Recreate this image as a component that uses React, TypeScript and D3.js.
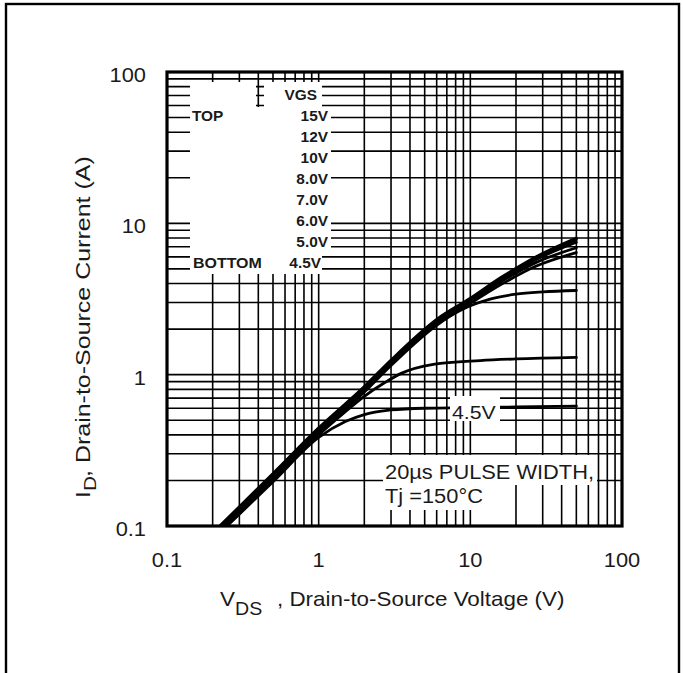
import React from 'react';
import * as d3 from 'd3';

const WIDTH = 683;
const HEIGHT = 673;
const PLOT = { left: 167, right: 622, top: 72, bottom: 526 };
const FONT = "'Liberation Sans', Arial, Helvetica, sans-serif";
const INK = '#1a1a1a';
const STRETCH = 1.12;

// Axis decades and their labels
const xTickValues = [0.1, 1, 10, 100];
const xTickLabels = ['0.1', '1', '10', '100'];
const yTickValues = [0.1, 1, 10, 100];
const yTickLabels = ['0.1', '1', '10', '100'];

// Legend block
const legendHeader = 'VGS';
const legendTopWord = 'TOP';
const legendBottomWord = 'BOTTOM';
const gateLabels = ['15V', '12V', '10V', '8.0V', '7.0V', '6.0V', '5.0V', '4.5V'];

// Output characteristics, [VDS (V), ID (A)] per gate voltage
const curve15V = [[0.2, 0.09], [0.5, 0.222], [1, 0.445], [2, 0.835], [3, 1.25], [6, 2.32], [10, 3.2], [16, 4.4], [27, 6.0], [50, 8.0]];
const curve12V = [[0.2, 0.089], [0.5, 0.219], [1, 0.438], [2, 0.822], [3, 1.23], [6, 2.28], [10, 3.15], [16, 4.33], [27, 5.9], [50, 7.8]];
const curve10V = [[0.2, 0.0875], [0.5, 0.215], [1, 0.43], [2, 0.808], [3, 1.21], [6, 2.24], [10, 3.09], [16, 4.25], [27, 5.75], [50, 7.5]];
const curve8V = [[0.2, 0.086], [0.5, 0.212], [1, 0.423], [2, 0.795], [3, 1.19], [6, 2.2], [10, 3.03], [16, 4.12], [27, 5.5], [50, 6.9]];
const curve7V = [[0.2, 0.0848], [0.5, 0.208], [1, 0.416], [2, 0.78], [3, 1.17], [6, 2.16], [10, 2.96], [16, 3.95], [27, 5.2], [50, 6.4]];
const curve6V = [[0.2, 0.0835], [0.5, 0.205], [1, 0.41], [2, 0.768], [3, 1.15], [6, 2.12], [8.5, 2.64], [10, 2.85], [13.5, 3.16], [20, 3.4], [30, 3.52], [50, 3.6]];
const curve5V = [[0.2, 0.082], [0.5, 0.2], [1, 0.4], [1.5, 0.57], [2, 0.72], [2.7, 0.88], [3.5, 1.02], [5.7, 1.17], [11.6, 1.24], [20, 1.27], [50, 1.3]];
const curve4p5V = [[0.2, 0.081], [0.5, 0.196], [1, 0.385], [1.5, 0.49], [2, 0.545], [3, 0.585], [5, 0.6], [10, 0.605], [20, 0.612], [50, 0.62]];
const curves = [curve15V, curve12V, curve10V, curve8V, curve7V, curve6V, curve5V, curve4p5V];

// Annotations
const lowCurveLabel = '4.5V';
const noteLine1 = '20\u00b5s PULSE WIDTH,';
const noteLine2 = 'Tj =150\u00b0C';
const xTitleMain = 'V';
const xTitleSub = 'DS';
const xTitleRest = ', Drain-to-Source Voltage (V)';
const yTitleMain = 'I';
const yTitleSub = 'D';
const yTitleRest = ', Drain-to-Source Current (A)';

// White areas that keep the grid away from text
const gridMasks = [
  { x: 190, y: 82, w: 66, h: 192 },
  { x: 256, y: 107, w: 8, h: 167 },
  { x: 264, y: 82, w: 58, h: 192 },
  { x: 264, y: 110, w: 67, h: 140 },
  { x: 450, y: 396, w: 50, h: 25 },
  { x: 383, y: 455, w: 214, h: 30 },
  { x: 383, y: 484, w: 107, h: 26 },
];

function Txt({ x, y, anchor = 'start', size = 20, weight = 'normal', sx = STRETCH, children }: any) {
  return (
    <text
      transform={`translate(${x},${y}) scale(${sx},1)`}
      textAnchor={anchor}
      fontSize={size}
      fontWeight={weight}
      fontFamily={FONT}
      fill={INK}
    >
      {children}
    </text>
  );
}

export default function App() {
  const x = d3.scaleLog().domain([0.1, 100]).range([PLOT.left, PLOT.right]);
  const y = d3.scaleLog().domain([0.1, 100]).range([PLOT.bottom, PLOT.top]);

  const xGrid = x.ticks();
  const yGrid = y.ticks();

  const line = d3
    .line<number[]>()
    .x((d) => x(d[0]))
    .y((d) => y(d[1]))
    .curve(d3.curveMonotoneX);

  const rowY = (i: number) => 100 + 21.04 * i;

  return (
    <svg
      width={WIDTH}
      height={HEIGHT}
      style={{ position: 'absolute', left: 0, top: 0, background: '#fff' }}
    >
      <defs>
        <clipPath id="plot-clip">
          <rect x={PLOT.left} y={PLOT.top} width={PLOT.right - PLOT.left} height={PLOT.bottom - PLOT.top} />
        </clipPath>
      </defs>
      <rect x={0} y={0} width={WIDTH} height={HEIGHT} fill="#fff" />
      {/* page frame */}
      <rect x={6} y={4} width={673} height={720} fill="none" stroke="#000" strokeWidth={2.4} />

      {/* log grid */}
      <g stroke="#000" strokeWidth={1.6}>
        {xGrid.map((v, i) => (
          <line key={'gx' + i} x1={x(v)} x2={x(v)} y1={PLOT.top} y2={PLOT.bottom} />
        ))}
        {yGrid.map((v, i) => (
          <line key={'gy' + i} x1={PLOT.left} x2={PLOT.right} y1={y(v)} y2={y(v)} />
        ))}
      </g>

      {/* ID-VDS curves */}
      <g clipPath="url(#plot-clip)" fill="none" stroke="#000" strokeWidth={2.8} strokeLinecap="round">
        {curves.map((c, i) => (
          <path key={'c' + i} d={line(c as any) || ''} />
        ))}
      </g>

      {/* text backgrounds */}
      <g fill="#fff">
        {gridMasks.map((m, i) => (
          <rect key={'m' + i} x={m.x} y={m.y} width={m.w} height={m.h} />
        ))}
      </g>

      {/* plot border */}
      <rect
        x={PLOT.left}
        y={PLOT.top}
        width={PLOT.right - PLOT.left}
        height={PLOT.bottom - PLOT.top}
        fill="none"
        stroke="#000"
        strokeWidth={3.2}
      />

      {/* legend */}
      <Txt x={317} y={rowY(0)} anchor="end" size={14} weight="bold" sx={1.1}>{legendHeader}</Txt>
      <Txt x={192} y={rowY(1)} size={14} weight="bold" sx={1.1}>{legendTopWord}</Txt>
      <Txt x={193} y={rowY(8)} size={14} weight="bold" sx={1.14}>{legendBottomWord}</Txt>
      {gateLabels.map((g, i) => (
        <Txt key={'g' + i} x={i === gateLabels.length - 1 ? 321 : 328} y={rowY(i + 1)} anchor="end" size={14} weight="bold" sx={1.1}>
          {g}
        </Txt>
      ))}

      {/* annotations */}
      <Txt x={452} y={419} size={19}>{lowCurveLabel}</Txt>
      <Txt x={385} y={479} size={19.5}>{noteLine1}</Txt>
      <Txt x={385} y={503} size={19.5}>{noteLine2}</Txt>

      {/* tick labels */}
      {yTickValues.map((v, i) => (
        <Txt key={'yt' + i} x={146} y={y(v) + 10} anchor="end" size={19.5}>{yTickLabels[i]}</Txt>
      ))}
      {xTickValues.map((v, i) => (
        <Txt key={'xt' + i} x={x(v)} y={567} anchor="middle" size={19.5}>{xTickLabels[i]}</Txt>
      ))}

      {/* axis titles */}
      <Txt x={220} y={606} size={20}>{xTitleMain}</Txt>
      <Txt x={235} y={615} size={17.5}>{xTitleSub}</Txt>
      <Txt x={277} y={606} size={20}>{xTitleRest}</Txt>

      <g transform="translate(90,498) rotate(-90)">
        <Txt x={0} y={0} size={20} sx={1.22}>{yTitleMain}</Txt>
        <Txt x={7} y={6} size={17} sx={1.22}>{yTitleSub}</Txt>
        <Txt x={21} y={0} size={20} sx={1.25}>{yTitleRest}</Txt>
      </g>
    </svg>
  );
}
